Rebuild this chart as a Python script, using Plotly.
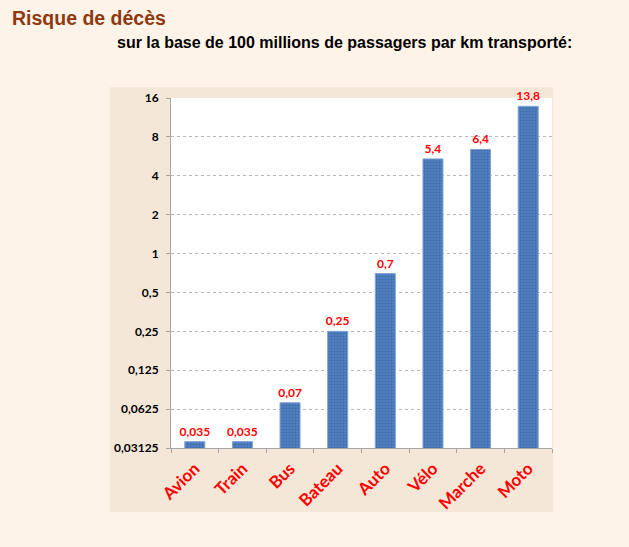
import plotly.graph_objects as go

categories = ["Avion", "Train", "Bus", "Bateau", "Auto", "Vélo", "Marche", "Moto"]
values = [0.035, 0.035, 0.07, 0.25, 0.7, 5.4, 6.4, 13.8]
value_labels = ["0,035", "0,035", "0,07", "0,25", "0,7", "5,4", "6,4", "13,8"]
tick_vals = [0.03125, 0.0625, 0.125, 0.25, 0.5, 1, 2, 4, 8, 16]
tick_text = ["0,03125", "0,0625", "0,125", "0,25", "0,5", "1", "2", "4", "8", "16"]

fig = go.Figure()
fig.add_trace(go.Bar(
    x=categories, y=values,
    text=value_labels, textposition="outside", constraintext="none",
    textfont=dict(family="Lato", size=12, color="#FF0000", weight="bold"),
    cliponaxis=False,
    marker=dict(
        color="#4070B2",
        line=dict(color="#7FA3D6", width=1),
        pattern=dict(shape=".", size=3, solidity=0.5, fgcolor="#2C5A9A", bgcolor="#5585C4"),
    ),
    width=0.42,
))

fig.update_layout(
    width=629, height=547,
    margin=dict(l=171, r=77, t=98, b=99),
    paper_bgcolor="#FEF3E8",
    plot_bgcolor="rgba(0,0,0,0)",
    showlegend=False,
    xaxis=dict(
        tickangle=-45,
        tickfont=dict(family="Lato", size=17, color="#FF0000", weight="bold"),
        showline=True, linecolor="#A6A6A6", linewidth=1,
        ticks="outside", tickson="boundaries", ticklen=4, tickcolor="#A6A6A6",
        ticklabelstandoff=3,
        showgrid=False,
    ),
    yaxis=dict(
        type="log",
        range=[-1.50515, 1.20412],
        tickvals=tick_vals, ticktext=tick_text,
        tickfont=dict(family="Lato", size=12, color="#000000", weight="bold"),
        showline=True, linecolor="#A6A6A6", linewidth=1,
        ticks="outside", ticklen=4, tickcolor="#A6A6A6",
        ticklabelstandoff=5,
        showgrid=True, gridcolor="#B8B8B8", griddash="dot", gridwidth=1,
        zeroline=False,
    ),
    shapes=[
        dict(type="rect", xref="paper", yref="paper",
             x0=-0.160, x1=1.003, y0=-0.183, y1=1.031,
             fillcolor="#F5E7D8", line=dict(width=0), layer="below"),
        dict(type="rect", xref="paper", yref="paper",
             x0=0, x1=1, y0=0, y1=1,
             fillcolor="#FFFFFF", line=dict(width=0), layer="below"),
    ],
    annotations=[
        dict(text="Risque de décès", xref="paper", yref="paper",
             x=(10 - 171) / 381, y=(448 - 18) / 350, xanchor="left", yanchor="middle",
             showarrow=False,
             font=dict(family="Liberation Sans", size=19.5, color="#8E3A0E", weight="bold")),
        dict(text="sur la base de 100 millions de passagers par km transporté:",
             xref="paper", yref="paper",
             x=(115 - 171) / 381, y=(448 - 43) / 350, xanchor="left", yanchor="middle",
             showarrow=False,
             font=dict(family="Liberation Sans", size=16, color="#000000", weight="bold")),
    ],
)

fig.write_html(
    "out.html",
    config={"displayModeBar": False},
    post_script="document.body.style.margin='0';document.body.style.background='#FEF3E8';",
)
